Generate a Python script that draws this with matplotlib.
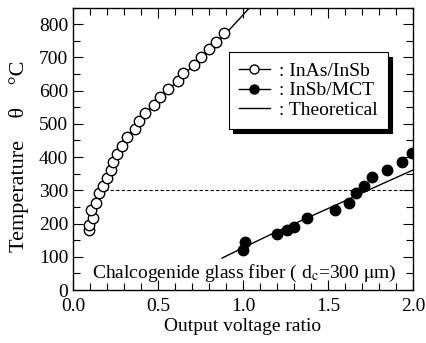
import matplotlib.pyplot as plt
from matplotlib.ticker import MultipleLocator

plt.rcParams['font.family'] = ['Liberation Serif', 'DejaVu Serif']
plt.rcParams['mathtext.fontset'] = 'stix'

# InAs/InSb (open circles)
inas_x = [0.094, 0.094, 0.117, 0.105, 0.135, 0.153, 0.178, 0.2, 0.224, 0.235, 0.26, 0.287,
          0.32, 0.365, 0.39, 0.424, 0.478, 0.51, 0.557, 0.615, 0.65, 0.714, 0.756, 0.8, 0.841, 0.888]
inas_y = [180, 195, 216, 240, 262, 291, 313, 336, 360, 385, 409, 433,
          460, 484, 509, 532, 556, 580, 604, 628, 652, 678, 701, 725, 746, 773]

# InSb/MCT (filled circles)
insb_x = [1.0, 1.01, 1.2, 1.26, 1.3, 1.376, 1.54, 1.624, 1.665, 1.712, 1.76, 1.848, 1.935, 1.994]
insb_y = [120, 144, 168, 180, 191, 216, 241, 262, 291, 313, 340, 361, 385, 412]

# theoretical curves
th1_x = [0.09, 0.12, 0.16, 0.22, 0.3, 0.4, 0.5, 0.6, 0.7, 0.8, 0.9, 1.04]
th1_y = [180, 235, 295, 360, 445, 515, 572, 622, 672, 722, 772, 850]
th2_x = [0.877, 1.0, 1.2, 1.4, 1.6, 1.8, 2.0]
th2_y = [96, 127, 176, 222, 268, 315, 361]

fig = plt.figure(figsize=(4.27, 3.43), dpi=100)
ax = fig.add_axes([0.171, 0.1545, 0.796, 0.8235])

ax.plot([0.15, 2.0], [300, 300], ls=(0, (3, 2)), color='black', lw=0.8, zorder=1)
ax.plot(th1_x, th1_y, color='black', lw=1, zorder=2)
ax.plot(th2_x, th2_y, color='black', lw=1, zorder=2)
ax.plot(inas_x, inas_y, 'o', mfc='white', mec='black', ms=7.5, mew=1, zorder=3)
ax.plot(insb_x, insb_y, 'o', color='black', ms=7.5, zorder=3)

# legend handles
h1, = ax.plot([], [], '-o', color='black', mfc='white', ms=6.5, lw=1)
h2, = ax.plot([], [], '-o', color='black', ms=6.5, lw=1)
h3, = ax.plot([], [], '-', color='black', lw=1)
leg = ax.legend([h1, h2, h3], [': InAs/InSb', ': InSb/MCT', ': Theoretical'],
                loc='upper right', bbox_to_anchor=(0.926, 0.841), fontsize=14,
                frameon=True, fancybox=False,
                shadow={'color': 'black', 'alpha': 1, 'ox': 3, 'oy': -3},
                handlelength=1.6, handletextpad=0.5, borderpad=0.5, labelspacing=0.1,
                borderaxespad=0)
leg.get_frame().set_edgecolor('black')
leg.get_frame().set_linewidth(0.8)

ax.text(0.112, 51, r'Chalcogenide glass fiber ( d$_{\rm c}$=300 $\mathrm{\mu}$m)', fontsize=14,
        va='center', ha='left')

ax.set_xlim(0, 2.0)
ax.set_ylim(0, 850)
ax.xaxis.set_major_locator(MultipleLocator(0.5))
ax.xaxis.set_minor_locator(MultipleLocator(0.1))
ax.yaxis.set_major_locator(MultipleLocator(100))
ax.yaxis.set_minor_locator(MultipleLocator(50))
ax.tick_params(which='both', direction='in', top=True, right=True, labelsize=14, width=0.8)
ax.tick_params(which='major', length=7)
ax.tick_params(which='minor', length=5)
ax.tick_params(axis='x', which='major', pad=6)
for s in ax.spines.values():
    s.set_linewidth(1)
ax.set_xticks([0, 0.5, 1.0, 1.5, 2.0])
ax.set_xticklabels(['0.0', '0.5', '1.0', '1.5', '2.0'])

ax.set_xlabel('Output voltage ratio', fontsize=14, labelpad=2)
ax.set_ylabel('Temperature    θ    °C', fontsize=16)
ax.yaxis.set_label_coords(-0.13, 0.475)

fig.savefig('out.png', dpi=100)
